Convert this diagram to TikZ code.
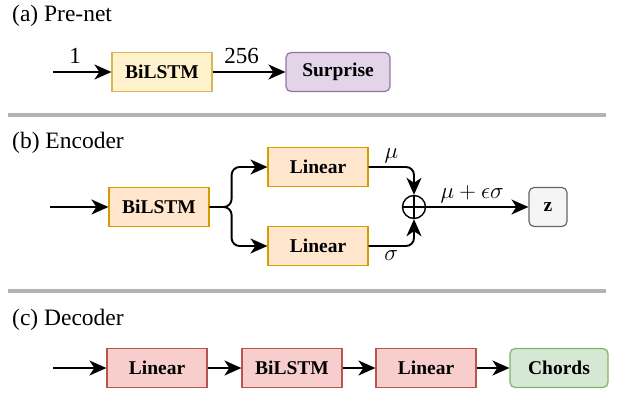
\RequirePackage{fix-cm}
\documentclass[tikz,border=0pt]{standalone}
\usepackage{fontspec}
\setmainfont{Liberation Serif}
\usetikzlibrary{arrows.meta}
\usetikzlibrary{calc}
\definecolor{yfill}{HTML}{FFF2CC}\definecolor{ydraw}{HTML}{D6B656}
\definecolor{pfill}{HTML}{E1D5E7}\definecolor{pdraw}{HTML}{9673A6}
\definecolor{ofill}{HTML}{FFE6CC}\definecolor{odraw}{HTML}{D79B00}
\definecolor{gfill}{HTML}{F5F5F5}\definecolor{gdraw}{HTML}{666666}
\definecolor{rfill}{HTML}{F8CECC}\definecolor{rdraw}{HTML}{B85450}
\definecolor{nfill}{HTML}{D5E8D4}\definecolor{ndraw}{HTML}{82B366}
\definecolor{sepgray}{HTML}{B3B3B3}
\tikzset{box/.style={draw, line width=1.2pt, minimum width=100pt, minimum height=39pt, inner sep=0pt, font=\fontsize{19.5}{19.5}\selectfont\bfseries}}
\tikzset{ttl/.style={anchor=west, inner sep=0pt, font=\fontsize{23.5}{23.5}\selectfont}}
\tikzset{l/.style={font=\fontsize{23}{23}\selectfont}}
\tikzset{arr/.style={line width=1.9pt, -{Stealth[length=17pt,width=15pt,inset=5pt]}}}
\tikzset{sep/.style={sepgray, line width=4pt}}

\begin{document}
\begin{tikzpicture}[x=1pt,y=-1pt]
  \useasboundingbox (0,0) rectangle (618,394);
  % (a) pre-net
  \node[ttl] (ta) at (12,16) {(a) Pre-net};
  \coordinate (ina) at (53,72);
  \node[box, fill=yfill, draw=ydraw] (bila) at (162,72) {BiLSTM};
  \node[box, fill=pfill, draw=pdraw, rounded corners=5pt, minimum width=104pt] (sur) at (338,72) {Surprise};
  \draw[arr] (ina) -- node[l, above, pos=0.38, yshift=4pt] {1} (bila);
  \draw[arr] (bila) -- node[l, above, pos=0.4, yshift=4pt] {256} (sur);
  \draw[sep] (8,115) -- (606,115);
  % (b) encoder
  \node[ttl] (tb) at (12,143) {(b) Encoder};
  \coordinate (inb) at (50,207);
  \node[box, fill=ofill, draw=odraw] (bilb) at (159,207) {BiLSTM};
  \node[box, fill=ofill, draw=odraw] (lin1) at (318,167) {Linear};
  \node[box, fill=ofill, draw=odraw] (lin2) at (318,246) {Linear};
  \node[circle, draw, line width=1.4pt, minimum size=23pt, inner sep=0pt] (op) at (414,207) {};
  \draw[line width=1.4pt] (op.north) -- (op.south) (op.west) -- (op.east);
  \node[box, fill=gfill, draw=gdraw, rounded corners=5pt, minimum width=38pt] (z) at (548,207) {z};
  \draw[arr] (inb) -- (bilb);
  \draw[arr, rounded corners=8pt] (bilb.east) -- ++(22,0) |- (lin1.west);
  \draw[arr, rounded corners=8pt] (bilb.east) -- ++(22,0) |- (lin2.west);
  \draw[arr, rounded corners=8pt] (lin1.east) -| node[l, above, pos=0.25] {$\mu$} (op.north);
  \draw[arr, rounded corners=8pt] (lin2.east) -| node[l, below, pos=0.25] {$\sigma$} (op.south);
  \draw[arr] (op) -- node[l, above, pos=0.45] {$\mu+\epsilon\sigma$} (z);
  \draw[sep] (8,291) -- (606,291);
  % (c) decoder
  \node[ttl] (tc) at (12,320) {(c) Decoder};
  \coordinate (inc) at (53,368);
  \node[box, fill=rfill, draw=rdraw] (lin3) at (157,368) {Linear};
  \node[box, fill=rfill, draw=rdraw] (bilc) at (292,368) {BiLSTM};
  \node[box, fill=rfill, draw=rdraw] (lin4) at (426,368) {Linear};
  \node[box, fill=nfill, draw=ndraw, rounded corners=5pt, minimum width=98pt] (cho) at (559,368) {Chords};
  \draw[arr] (inc) -- (lin3);
  \draw[arr] (lin3) -- (bilc);
  \draw[arr] (bilc) -- (lin4);
  \draw[arr] (lin4) -- (cho);
\end{tikzpicture}
\end{document}
